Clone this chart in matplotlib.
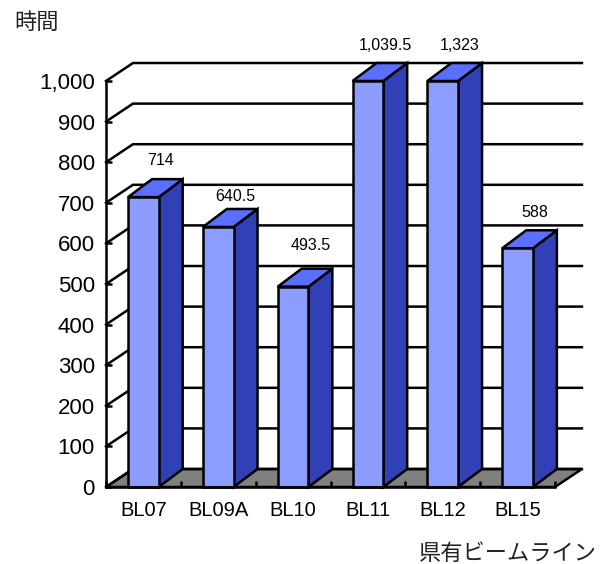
import matplotlib.pyplot as plt

plt.rcParams['font.family'] = ['Liberation Sans', 'Noto Sans CJK JP', 'DejaVu Sans']

# data (bars are cut off at the top of the axis)
categories = ['BL07', 'BL09A', 'BL10', 'BL11', 'BL12', 'BL15']
hours = [714, 640.5, 493.5, 1039.5, 1323, 588]
value_labels = ['714', '640.5', '493.5', '1,039.5', '1,323', '588']
y_ticks = [0, 100, 200, 300, 400, 500, 600, 700, 800, 900, 1000]
y_tick_labels = ['0', '100', '200', '300', '400', '500', '600', '700', '800', '900', '1,000']

ymax = 1000
wall_dx, wall_dy = 0.36, 44.3  # depth of the fake 3D box
bar_dx, bar_dy = 0.32, 44.3    # depth of each bar
bar_width = 0.41
line_w = 1.8

fig = plt.figure(figsize=(6.08, 5.64), dpi=100)
ax = fig.add_axes([106 / 608, 1 - 487 / 564, 449 / 608, 406 / 564])
ax.set_xlim(0, len(categories))
ax.set_ylim(0, ymax)
ax.set_axisbelow(True)

n = len(categories)

# floor
ax.fill([0, n, n + wall_dx, wall_dx], [0, 0, wall_dy, wall_dy], facecolor='#808080',
        edgecolor='black', linewidth=line_w, zorder=0.2, clip_on=False)

# grid lines on the side and back walls
for v in y_ticks:
    ax.plot([0, wall_dx, n + wall_dx], [v, v + wall_dy, v + wall_dy], color='black',
            linewidth=line_w, zorder=0.3, clip_on=False, solid_joinstyle='miter')

# bars
offsets = [37, 30, 41, 36, 36, 36]  # label height above the bar, pixels
for i, v in enumerate(hours):
    top = min(v, ymax)
    left = i + 0.5 - bar_width / 2
    right = i + 0.5 + bar_width / 2
    ax.fill([right, right + bar_dx, right + bar_dx, right],
            [0, bar_dy, top + bar_dy, top], facecolor='#3140B5', edgecolor='black',
            linewidth=line_w, zorder=3, clip_on=False)
    ax.fill([left, right, right + bar_dx, left + bar_dx],
            [top, top, top + bar_dy, top + bar_dy], facecolor='#5A6EFF', edgecolor='black',
            linewidth=line_w, zorder=3, clip_on=False)
    ax.bar(i + 0.5, top, width=bar_width, color='#8C9CFF', edgecolor='black',
           linewidth=line_w, zorder=3.1, clip_on=False)
    ax.annotate(value_labels[i], (i + 0.5 + 0.23, top), xytext=(0, offsets[i] * 0.72),
                textcoords='offset points', ha='center', va='center', fontsize=11.5,
                zorder=5, annotation_clip=False)

# axes
for side in ['top', 'right']:
    ax.spines[side].set_visible(False)
for side in ['left', 'bottom']:
    ax.spines[side].set_linewidth(line_w)
    ax.spines[side].set_zorder(4)

ax.set_yticks(y_ticks)
ax.set_yticklabels(y_tick_labels, fontsize=16)
ax.tick_params(axis='y', direction='in', length=4.5, width=line_w, pad=8)

ax.set_xticks(range(n + 1))
ax.set_xticklabels([])
ax.set_xticks([i + 0.5 for i in range(n)], minor=True)
ax.set_xticklabels(categories, minor=True, fontsize=14.5)
ax.tick_params(axis='x', which='major', direction='in', length=4.5, width=line_w)
ax.tick_params(axis='x', which='minor', length=0, pad=10)

fig.text(14 / 608, 1 - 22 / 564, '時間', fontsize=16, ha='left', va='center',
         family=['Noto Sans CJK JP', 'DejaVu Sans'], color='#222222')
fig.text(597 / 608, 1 - 553 / 564, '県有ビームライン', fontsize=16, ha='right', va='center',
         family=['Noto Sans CJK JP', 'DejaVu Sans'], color='#222222')

fig.savefig('out.png', dpi=100)
